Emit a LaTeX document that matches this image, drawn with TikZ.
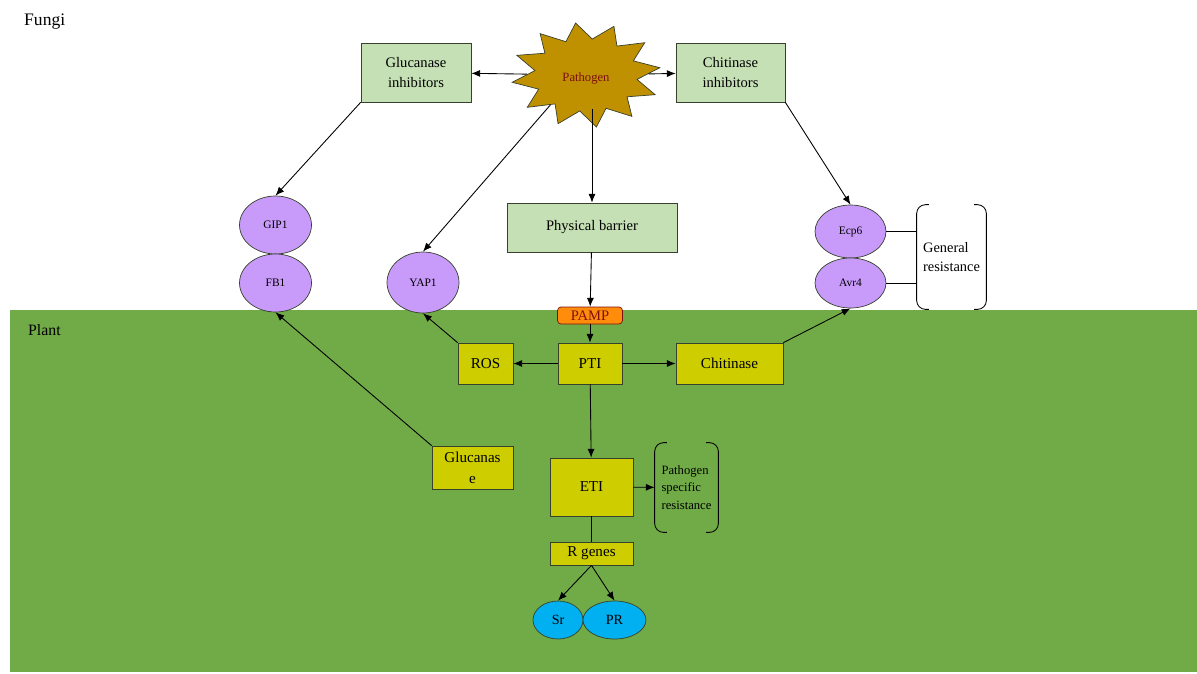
\documentclass[tikz,border=0pt]{standalone}
\usepackage{fontspec}
\setmainfont{Liberation Serif}
\usetikzlibrary{shapes.geometric,arrows.meta}

\definecolor{plantgreen}{RGB}{112,171,71}
\definecolor{boxgreen}{RGB}{197,224,180}
\definecolor{boxolive}{RGB}{205,205,0}
\definecolor{boxline}{RGB}{55,65,45}
\definecolor{lilac}{RGB}{200,155,250}
\definecolor{gold}{RGB}{191,144,0}
\definecolor{pampfill}{RGB}{255,140,10}
\definecolor{pamptext}{RGB}{125,15,15}
\definecolor{cyanfill}{RGB}{0,176,240}

\tikzset{
  fungibox/.style={rectangle,draw=boxline,fill=boxgreen,inner sep=0pt,align=center,
    font=\fontsize{8.3}{11}\selectfont},
  plantbox/.style={rectangle,draw=boxline,fill=boxolive,inner sep=0pt,align=center,
    font=\fontsize{8.6}{12}\selectfont},
  effector/.style={ellipse,draw=boxline,fill=lilac,inner sep=0pt,minimum width=1.44cm,
    font=\fontsize{6.5}{8}\selectfont},
  gene/.style={ellipse,draw=boxline,fill=cyanfill,inner sep=0pt,minimum height=0.76cm,
    font=\fontsize{8}{10}\selectfont},
  bracketbox/.style={rectangle,inner sep=0pt,align=left},
  arr/.style={-{Latex[length=5pt,width=4pt]},line width=0.5pt},
  link/.style={line width=0.5pt}
}

\begin{document}
\begin{tikzpicture}[x=0.02cm,y=-0.02cm]
  \useasboundingbox (0,0) rectangle (1197,673);
  \fill[plantgreen] (10,310) rectangle (1197,672);
  \node[anchor=west,font=\fontsize{10}{12}\selectfont] (fungi) at (18,22) {Fungi};
  \node[anchor=west,font=\fontsize{9}{11}\selectfont] (plant) at (22,330) {Plant};

  % fungal side
  \node[star,star points=12,star point ratio=1.45,minimum size=2.1cm,xscale=1.42,
    rotate=8,transform shape,draw=boxline,fill=gold] (pathogen) at (586,75) {};
  \node[font=\fontsize{7.2}{9}\selectfont,text=pamptext] (pathtext) at (586,78) {Pathogen};
  \node[fungibox,minimum width=2.2cm,minimum height=1.18cm] (glucinh) at (416,72.5) {Glucanase\\inhibitors};
  \node[fungibox,minimum width=2.18cm,minimum height=1.18cm] (chitinh) at (730.5,72.5) {Chitinase\\inhibitors};
  \node[fungibox,minimum width=3.4cm,minimum height=0.98cm] (barrier) at (592,227.5) {Physical barrier};
  \node[effector,minimum height=1.16cm] (gip) at (275.5,225) {GIP1};
  \node[effector,minimum height=1.16cm] (fb) at (275.5,283) {FB1};
  \node[effector,minimum height=1.22cm] (yap) at (423,282.5) {YAP1};
  \node[effector,minimum width=1.42cm,minimum height=1.06cm] (ecp) at (850.5,231.5) {Ecp6};
  \node[effector,minimum width=1.42cm,minimum height=1.0cm] (avr) at (850.5,283) {Avr4};
  \node[bracketbox,minimum width=1.38cm,minimum height=2.08cm,fill=white,
    font=\fontsize{8.2}{10.5}\selectfont] (gres) at (951.5,257) {General\\resistance};

  % plant side
  \node[rectangle,rounded corners=2pt,draw=pamptext,fill=pampfill,inner sep=0pt,
    minimum width=1.3cm,minimum height=0.34cm,text=pamptext,
    font=\fontsize{8.3}{10}\selectfont] (pamp) at (590,315.5) {PAMP};
  \node[plantbox,minimum width=1.28cm,minimum height=0.82cm] (pti) at (590,363.5) {PTI};
  \node[plantbox,minimum width=1.1cm,minimum height=0.82cm] (ros) at (485.5,363.5) {ROS};
  \node[plantbox,minimum width=2.14cm,minimum height=0.82cm] (chit) at (729.5,363.5) {Chitinase};
  \node[plantbox,minimum width=1.62cm,minimum height=0.86cm] (gluc) at (472.5,467.5) {Glucanas\\e};
  \node[plantbox,minimum width=1.66cm,minimum height=1.16cm] (eti) at (591.5,487) {ETI};
  \node[bracketbox,minimum width=1.26cm,minimum height=1.78cm,
    font=\fontsize{7.2}{10}\selectfont] (psr) at (686.5,487.5) {Pathogen\\specific\\resistance};
  \node[plantbox,minimum width=1.66cm,minimum height=0.46cm] (rgenes) at (591.5,553.5) {R genes};
  \node[gene,minimum width=1.0cm] (sr) at (558,620) {Sr};
  \node[gene,minimum width=1.26cm] (pr) at (614.5,620) {PR};

  % brackets
  \foreach \br in {gres,psr} {
    \draw[link,rounded corners=5pt] ([xshift=7pt]\br.north west) -- (\br.north west)
      -- (\br.south west) -- ([xshift=7pt]\br.south west);
    \draw[link,rounded corners=5pt] ([xshift=-7pt]\br.north east) -- (\br.north east)
      -- (\br.south east) -- ([xshift=-7pt]\br.south east);
  }

  % connectors
  \foreach \from/\to in {pathogen/glucinh,pathogen/chitinh,
      glucinh.south west/gip.north,chitinh.south east/ecp.north,
      barrier/pamp,pamp/pti,pti/ros,pti/chit,pti/eti,
      ros.north west/yap.south,chit.north east/avr.south,gluc.north west/fb.south,
      eti/psr,rgenes.south/sr.north,rgenes.south/pr.north}
    \draw[arr] (\from) -- (\to);
  \draw[arr] (barrier.north |- pathogen.inner point 7) -- (barrier);
  \draw[arr] (pathogen.222) -- (yap.north);
  \draw[link] (eti) -- (rgenes);
  \draw[link] (ecp) -- (ecp -| gres.west);
  \draw[link] (avr) -- (avr -| gres.west);
\end{tikzpicture}
\end{document}
